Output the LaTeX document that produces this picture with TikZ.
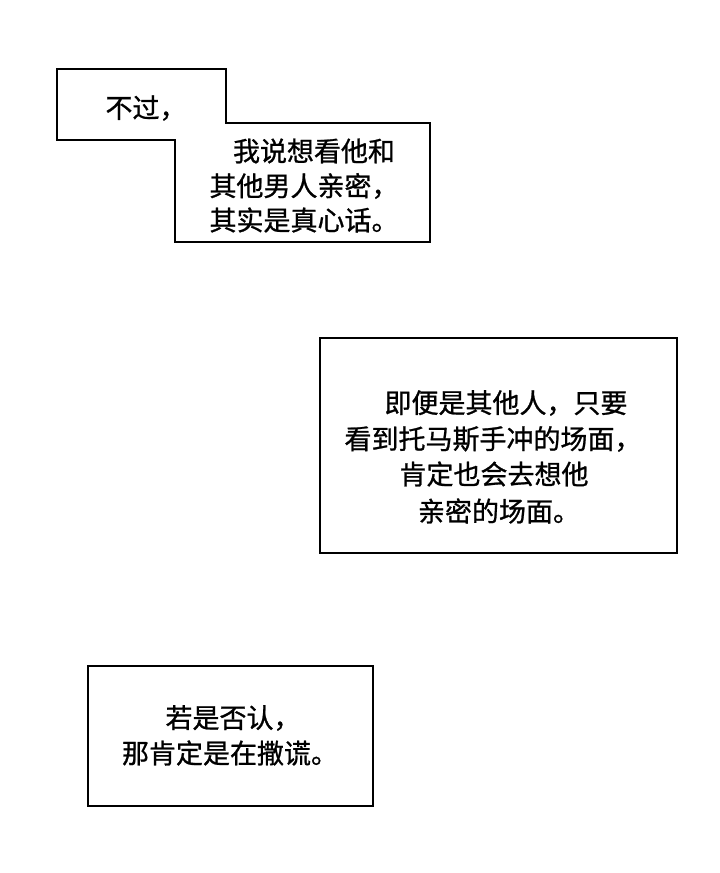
\documentclass[tikz,border=0pt]{standalone}
\usepackage{fontspec}
\newfontfamily\cjk[FakeBold=0.9]{Noto Sans CJK SC}
\begin{document}
\begin{tikzpicture}[x=1pt,y=-1pt,
  box/.style={draw=black,line width=2.4pt,fill=white},
  t/.style={font=\cjk\fontsize{27}{30}\selectfont,inner sep=0pt,anchor=center}]
\useasboundingbox[fill=white] (0,0) rectangle (720,873);
\draw[box] (57,69) -- (226,69) -- (226,123) -- (430,123) -- (430,242) -- (175,242) -- (175,140) -- (57,140) -- cycle;
\node[t] (a1) at (146,108) {不过，};
\node[t] (a2) at (314,151) {我说想看他和};
\node[t] (a3) at (304,186) {其他男人亲密，};
\node[t] (a4) at (304,220) {其实是真心话。};
\draw[box] (320,338) rectangle (677,553);
\node[t] (b1) at (506,403) {即便是其他人，只要};
\node[t] (b2) at (493,439) {看到托马斯手冲的场面，};
\node[t] (b3) at (494,474) {肯定也会去想他};
\node[t] (b4) at (499,511) {亲密的场面。};
\draw[box] (88,666) rectangle (373,806);
\node[t] (c1) at (233,718) {若是否认，};
\node[t] (c2) at (230,753) {那肯定是在撒谎。};
\end{tikzpicture}
\end{document}
